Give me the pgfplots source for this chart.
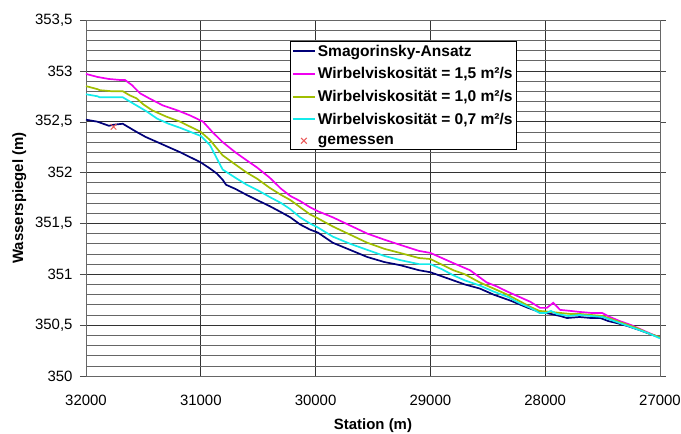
\documentclass[border=0pt]{standalone}
\usepackage{pgfplots}
\pgfplotsset{compat=1.18}
\usepackage{fontspec}
\setmainfont{Liberation Sans}
\definecolor{cnavy}{RGB}{0,0,120}
\definecolor{cmag}{RGB}{240,0,240}
\definecolor{colive}{RGB}{160,190,0}
\definecolor{ccyan}{RGB}{20,235,235}
\definecolor{cred}{RGB}{235,90,90}
\pgfplotsset{
  lineleg/.style={legend image code/.code={\draw[##1, line width=2bp] (0bp,0bp) -- (22bp,0bp);}},
  markleg/.style={legend image code/.code={\draw[##1] plot coordinates {(11bp,0bp)};}},
}
\begin{document}
\begin{tikzpicture}
\useasboundingbox (-86bp,-58bp) rectangle (595bp,376bp);
\begin{axis}[
  at={(0,0)}, anchor=south west,
  scale only axis, width=574bp, height=356bp,
  x dir=reverse,
  xmin=27000, xmax=32000, ymin=350, ymax=353.5,
  xtick={27000,28000,...,32000},
  scaled x ticks=false,
  ytick={350,350.5,...,353.5},
  minor ytick={350,350.1,...,353.5},
  grid=both,
  major grid style={black!80, line width=0.6bp},
  minor grid style={black!60, line width=0.6bp},
  axis line style={black!60, line width=0.6bp},
  tick align=outside,
  major tick length=6bp, minor tick length=0pt,
  tick style={black!70},
  xtick style={draw=none},
  /pgf/number format/assume math mode=true,
  /pgf/number format/use comma,
  /pgf/number format/1000 sep={},
  ticklabel style={font=\fontsize{15}{18}\selectfont},
  yticklabel style={xshift=-4bp},
  xticklabel style={yshift=-10bp},
  label style={font=\fontsize{15}{18}\selectfont\bfseries},
  xlabel={Station (m)},
  ylabel={Wasserspiegel (m)},
  ylabel shift=2bp,
  xlabel shift=6bp,
  legend style={at={(rel axis cs:0.3554,0.941)}, anchor=north west,
    draw=black, fill=white, font=\fontsize{15.6}{18}\selectfont\bfseries,
    inner sep=1.5bp, row sep=6bp, line width=0.8bp},
  legend cell align=left,
]
\addplot[cnavy, line width=1.7bp, lineleg] coordinates {
(32000,352.52) (31900,352.50) (31800,352.46) (31760,352.47) (31680,352.48) (31620,352.44)
(31560,352.40) (31480,352.35) (31380,352.30) (31280,352.25) (31180,352.20) (31090,352.15)
(31000,352.10) (30920,352.04) (30860,351.99) (30810,351.93) (30780,351.88) (30700,351.84)
(30600,351.78) (30510,351.73) (30400,351.67) (30300,351.61) (30220,351.56) (30135,351.49)
(30050,351.44) (29980,351.41) (29850,351.31) (29700,351.24) (29550,351.17) (29400,351.12)
(29265,351.09) (29100,351.04) (29000,351.02) (28900,350.98) (28800,350.94) (28700,350.90)
(28570,350.86) (28450,350.80) (28300,350.74) (28150,350.67) (28050,350.63) (27950,350.61)
(27870,350.59) (27810,350.57) (27700,350.58) (27600,350.57) (27520,350.57) (27450,350.54)
(27375,350.52) (27280,350.49) (27175,350.45) (27080,350.41) (27000,350.38)};
\addlegendentry{Smagorinsky-Ansatz}
\addplot[cmag, line width=1.7bp, lineleg] coordinates {
(32000,352.97) (31900,352.94) (31800,352.92) (31700,352.91) (31660,352.91) (31600,352.86)
(31530,352.78) (31450,352.73) (31330,352.66) (31200,352.61) (31090,352.56) (30980,352.50)
(30900,352.40) (30810,352.30) (30700,352.20) (30600,352.12) (30510,352.05) (30400,351.95)
(30300,351.84) (30220,351.77) (30135,351.72) (30050,351.66) (29980,351.62) (29850,351.56)
(29700,351.48) (29550,351.40) (29400,351.34) (29265,351.29) (29100,351.23) (29000,351.21)
(28900,351.16) (28800,351.11) (28655,351.04) (28510,350.92) (28420,350.88) (28330,350.83)
(28230,350.78) (28130,350.73) (28045,350.67) (27985,350.67) (27930,350.72) (27870,350.65)
(27780,350.64) (27700,350.63) (27600,350.62) (27505,350.62) (27435,350.58) (27350,350.54)
(27250,350.50) (27150,350.45) (27070,350.41) (27000,350.38)};
\addlegendentry{Wirbelviskosität = 1,5 m²/s}
\addplot[colive, line width=1.7bp, lineleg] coordinates {
(32000,352.85) (31900,352.82) (31880,352.81) (31780,352.80) (31680,352.80) (31620,352.76)
(31560,352.73) (31500,352.67) (31420,352.61) (31300,352.55) (31180,352.50) (31090,352.45)
(31000,352.40) (30920,352.32) (30810,352.17) (30700,352.08) (30600,352.00) (30510,351.94)
(30400,351.85) (30300,351.78) (30220,351.73) (30135,351.66) (30050,351.59) (29980,351.55)
(29850,351.47) (29700,351.39) (29550,351.31) (29400,351.25) (29265,351.21) (29100,351.16)
(29000,351.15) (28800,351.04) (28700,351.00) (28570,350.92) (28450,350.86) (28330,350.80)
(28230,350.74) (28130,350.68) (28050,350.64) (27950,350.63) (27870,350.62) (27780,350.61)
(27700,350.61) (27600,350.60) (27500,350.59) (27400,350.55) (27300,350.51) (27200,350.47)
(27100,350.42) (27000,350.38)};
\addlegendentry{Wirbelviskosität = 1,0 m²/s}
\addplot[ccyan, line width=1.7bp, lineleg] coordinates {
(32000,352.77) (31900,352.75) (31880,352.74) (31780,352.74) (31680,352.74) (31620,352.70)
(31560,352.66) (31470,352.60) (31380,352.53) (31280,352.48) (31180,352.44) (31090,352.40)
(31000,352.36) (30920,352.27) (30810,352.03) (30700,351.95) (30600,351.88) (30510,351.83)
(30400,351.76) (30300,351.70) (30220,351.64) (30135,351.56) (30050,351.50) (29980,351.46)
(29850,351.37) (29700,351.30) (29550,351.24) (29400,351.18) (29265,351.14) (29100,351.10)
(29000,351.10) (28900,351.05) (28800,350.99) (28700,350.94) (28570,350.89) (28450,350.83)
(28330,350.78) (28230,350.72) (28130,350.67) (28050,350.62) (27990,350.62) (27950,350.64)
(27900,350.61) (27800,350.59) (27700,350.60) (27600,350.59) (27500,350.58) (27400,350.54)
(27300,350.50) (27200,350.46) (27100,350.42) (27000,350.37)};
\addlegendentry{Wirbelviskosität = 0,7 m²/s}
\addplot[only marks, mark=x, mark size=4bp, cred, line width=1bp, markleg] coordinates {(31760,352.45)};
\addlegendentry{gemessen}
\end{axis}
\end{tikzpicture}
\end{document}
